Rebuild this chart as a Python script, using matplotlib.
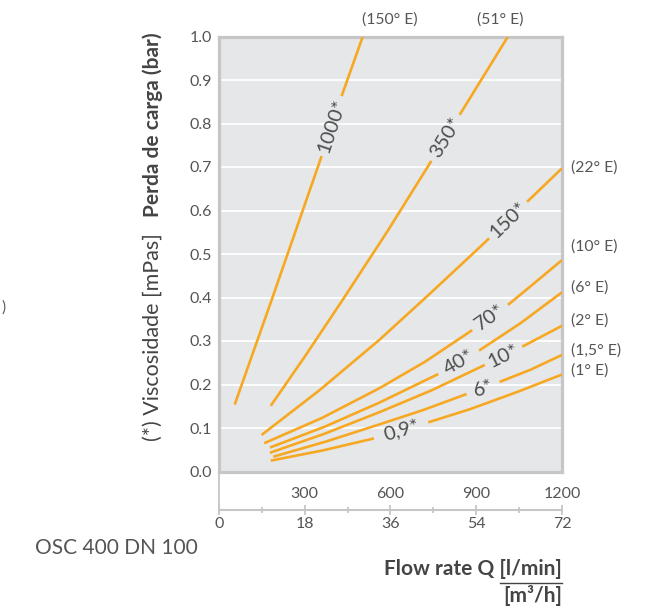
import numpy as np
import matplotlib
matplotlib.use("Agg")
import matplotlib.pyplot as plt
from matplotlib.lines import Line2D

plt.rcParams['font.family'] = ['Lato', 'DejaVu Sans']

# ---- data (flow rate l/min vs pressure drop bar) ----
q_1000 = [55, 184, 359, 429, 503]
dp_1000 = [0.154, 0.394, 0.725, 0.863, 1.0]
q_350 = [181, 300, 432, 590, 743, 842, 1011]
dp_350 = [0.151, 0.264, 0.394, 0.553, 0.714, 0.82, 1.0]
q_150 = [149, 350, 560, 730, 900, 945, 1078, 1200]
dp_150 = [0.084, 0.186, 0.302, 0.404, 0.508, 0.536, 0.62, 0.697]
q_70 = [158, 360, 560, 720, 886, 1011, 1105, 1200]
dp_70 = [0.065, 0.123, 0.191, 0.252, 0.325, 0.383, 0.434, 0.486]
q_40 = [178, 370, 560, 767, 910, 1055, 1200]
dp_40 = [0.055, 0.103, 0.158, 0.224, 0.278, 0.341, 0.412]
q_10 = [178, 370, 560, 745, 930, 1061, 1200]
dp_10 = [0.043, 0.087, 0.136, 0.187, 0.245, 0.287, 0.335]
q_6 = [190, 375, 560, 713, 866, 982, 1090, 1200]
dp_6 = [0.034, 0.069, 0.108, 0.141, 0.178, 0.206, 0.234, 0.268]
q_09 = [181, 360, 542, 732, 877, 1040, 1200]
dp_09 = [0.025, 0.048, 0.076, 0.113, 0.143, 0.182, 0.223]

curve_labels = ['1000*', '350*', '150*', '70*', '40*', '10*', '6*', '0,9*']
engler_labels = ['(150° E)', '(51° E)', '(22° E)', '(10° E)', '(6° E)',
                 '(2° E)', '(1,5° E)', '(1° E)']

y_ticks = [0.0, 0.1, 0.2, 0.3, 0.4, 0.5, 0.6, 0.7, 0.8, 0.9, 1.0]
lmin_ticks = [300, 600, 900, 1200]
m3h_ticks = [0, 18, 36, 54, 72]
m3h_minor = [9, 27, 45, 63]

curves = [(q_1000, dp_1000), (q_350, dp_350), (q_150, dp_150), (q_70, dp_70),
          (q_40, dp_40), (q_10, dp_10), (q_6, dp_6), (q_09, dp_09)]
# label gaps along x (style)
gaps = [(359, 429), (743, 842), (945, 1078), (886, 1011),
        (767, 910), (930, 1061), (866, 982), (542, 732)]

ORANGE = '#f7a823'
GRAY_TXT = '#555555'
DARK_TXT = '#444444'
SPINE = '#c5c6c8'
TICK_FS = 11.5

W, H = 652, 612
fig = plt.figure(figsize=(W / 100, H / 100), dpi=100)

ax = fig.add_axes([219 / W, (H - 471.5) / H, 343 / W, 435 / H])
ax.set_facecolor('#e6e7e8')
ax.set_xlim(0, 1200)
ax.set_ylim(0, 1.0)
for s in ax.spines.values():
    s.set_color(SPINE)
    s.set_linewidth(2.3)
ax.set_xticks([])
ax.set_yticks(y_ticks)
ax.set_yticklabels([f'{v:.1f}' for v in y_ticks])
ax.tick_params(axis='y', length=0, pad=5, labelsize=TICK_FS, labelcolor=GRAY_TXT)
for yv in y_ticks[1:-1]:
    ax.axhline(yv, color='white', lw=1.3, zorder=1)

for (q, dp), (g0, g1), lab in zip(curves, gaps, curve_labels):
    q = np.asarray(q, float)
    dp = np.asarray(dp, float)
    y0 = np.interp(g0, q, dp)
    y1 = np.interp(g1, q, dp)
    m0 = q < g0
    m1 = q > g1
    ax.plot(np.r_[q[m0], g0], np.r_[dp[m0], y0], color=ORANGE, lw=1.9,
            solid_capstyle='butt', solid_joinstyle='round', zorder=3)
    ax.plot(np.r_[g1, q[m1]], np.r_[y1, dp[m1]], color=ORANGE, lw=1.9,
            solid_capstyle='butt', solid_joinstyle='round', zorder=3)
    p0 = ax.transData.transform((g0, y0))
    p1 = ax.transData.transform((g1, y1))
    ang = np.degrees(np.arctan2(p1[1] - p0[1], p1[0] - p0[0]))
    ax.text((g0 + g1) / 2, (y0 + y1) / 2, lab, rotation=ang,
            rotation_mode='anchor', ha='center', va='center',
            fontsize=14.5, color='#4d4d4d', zorder=4)

# Engler labels on top
ENG_FS = 11.3
ax.text(499, 1.038, engler_labels[0], ha='left', va='center', fontsize=ENG_FS,
        color=GRAY_TXT, clip_on=False)
ax.text(901, 1.038, engler_labels[1], ha='left', va='center', fontsize=ENG_FS,
        color=GRAY_TXT, clip_on=False)
right_y = [0.698, 0.516, 0.424, 0.348, 0.277, 0.233]
for lab, yv in zip(engler_labels[2:], right_y):
    ax.text(1.025, yv, lab, transform=ax.get_yaxis_transform(), ha='left',
            va='center', fontsize=ENG_FS, color=GRAY_TXT, clip_on=False)

# secondary bottom axis
ax2 = fig.add_axes([219 / W, (H - 510) / H, 343 / W, 0.0001])
ax2.patch.set_visible(False)
for k in ['left', 'right', 'top']:
    ax2.spines[k].set_visible(False)
ax2.spines['bottom'].set_color(SPINE)
ax2.spines['bottom'].set_linewidth(1.5)
ax2.set_yticks([])
ax2.set_xlim(0, 72)
ax2.set_xticks(m3h_ticks)
ax2.set_xticklabels([str(v) for v in m3h_ticks])
ax2.set_xticks(m3h_minor, minor=True)
ax2.tick_params(axis='x', which='major', direction='inout', length=7.2,
                width=1.3, color=SPINE, pad=1.8, labelsize=TICK_FS,
                labelcolor=GRAY_TXT)
ax2.tick_params(axis='x', which='minor', direction='inout', length=4,
                width=1.3, color=SPINE)

ax3 = ax2.twiny()
ax3.patch.set_visible(False)
for s in ax3.spines.values():
    s.set_visible(False)
ax3.set_xlim(0, 1200)
ax3.set_xticks(lmin_ticks)
ax3.set_xticklabels([str(v) for v in lmin_ticks])
ax3.tick_params(axis='x', top=True, length=0, pad=6.5, labelsize=TICK_FS,
                labelcolor=GRAY_TXT)

fig.add_artist(Line2D([219 / W, 219 / W], [(H - 512) / H, (H - 471.5) / H],
                      color=SPINE, lw=1.3))

# axis titles
fig.text(153 / W, 1 - 125 / H, 'Perda de carga (bar)', rotation=90,
         ha='center', va='center', fontsize=15, fontweight='bold',
         color=DARK_TXT)
fig.text(153 / W, 1 - 337 / H, '(*) Viscosidade [mPas]', rotation=90,
         ha='center', va='center', fontsize=15.5, color=DARK_TXT)

fig.text(35 / W, 1 - 548 / H, 'OSC 400 DN 100', ha='left', va='center',
         fontsize=15, color=GRAY_TXT)
fig.text(1 / W, 1 - 308 / H, ')', ha='left', va='center', fontsize=11,
         color=GRAY_TXT)

fig.text(562 / W, 1 - 569 / H, 'Flow rate Q [l/min]', ha='right',
         va='center', fontsize=15, fontweight='bold', color=DARK_TXT)
fig.text(562 / W, 1 - 596 / H, '[m³/h]', ha='right', va='center',
         fontsize=15, fontweight='bold', color=DARK_TXT)
fig.add_artist(Line2D([500 / W, 562 / W], [1 - 582.5 / H, 1 - 582.5 / H],
                      color=DARK_TXT, lw=1.0))

fig.savefig('out.png', dpi=100)
